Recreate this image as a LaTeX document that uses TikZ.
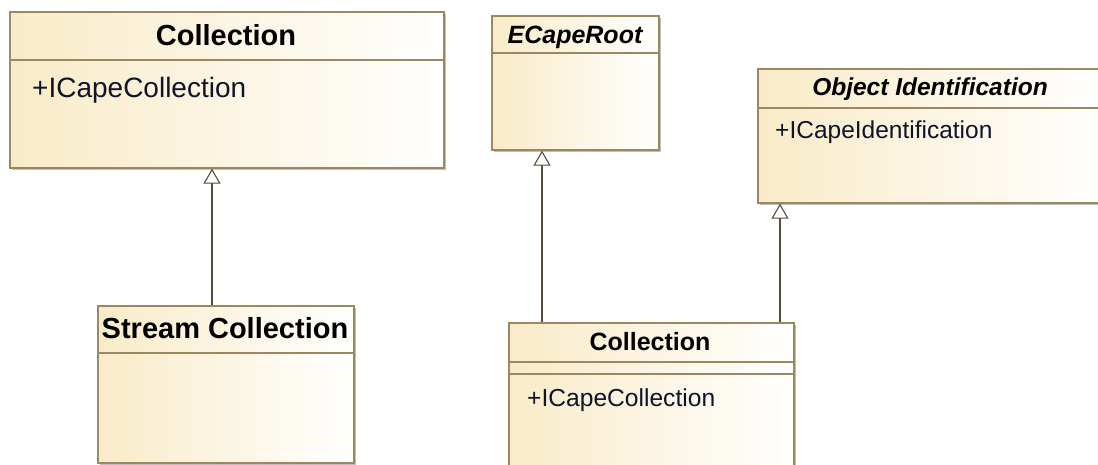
\documentclass[tikz,border=0pt]{standalone}
\usepackage{fontspec}
\setmainfont{Liberation Sans}
\usetikzlibrary{arrows.meta,shadows}
\definecolor{umlborder}{RGB}{155,136,96}
\definecolor{umlfill}{RGB}{249,235,200}
\definecolor{umlline}{RGB}{85,76,62}
\definecolor{attrtext}{RGB}{15,20,40}
\tikzset{
  classbox/.style={draw=umlborder, line width=1.6pt, rectangle, inner sep=0pt, anchor=north west,
    left color=umlfill, right color=white,
    drop shadow={shadow xshift=2pt, shadow yshift=-2pt, opacity=0.25, fill=black}},
  sepline/.style={draw=umlborder, line width=1.4pt},
  gen/.style={draw=umlline, line width=1.4pt, -{Triangle[open, width=17pt 0 0, length=15pt 0 0, line width=1.1pt, fill=white]}},
  title/.style={inner sep=0pt, anchor=base, font=\bfseries},
  ititle/.style={inner sep=0pt, anchor=base, font=\bfseries\itshape},
  attr/.style={inner sep=0pt, anchor=base west, text=attrtext}
}
\begin{document}
\begin{tikzpicture}[x=1pt,y=-1pt]
\clip (0,0) rectangle (1098,464);
\fill[white] (0,0) rectangle (1098,464);
% boxes
\node[classbox, minimum width=434pt, minimum height=156pt] (c1) at (9,11) {};
\node[classbox, minimum width=256pt, minimum height=157pt] (sc) at (97,305) {};
\node[classbox, minimum width=167pt, minimum height=134pt] (ecr) at (491,15) {};
\node[classbox, minimum width=346pt, minimum height=134pt] (oid) at (757,68) {};
\node[classbox, minimum width=285pt, minimum height=160pt] (c2) at (508,322) {};
% compartment separators
\draw[sepline] (c1.west |- 0,60) -- (c1.east |- 0,60);
\draw[sepline] (sc.west |- 0,353) -- (sc.east |- 0,353);
\draw[sepline] (ecr.west |- 0,53) -- (ecr.east |- 0,53);
\draw[sepline] (oid.west |- 0,108) -- (oid.east |- 0,108);
\draw[sepline] (c2.west |- 0,362) -- (c2.east |- 0,362);
\draw[sepline] (c2.west |- 0,374) -- (c2.east |- 0,374);
% texts
\node[title, font=\bfseries\fontsize{29}{34}\selectfont] (c1t) at (226,45) {Collection};
\node[attr, font=\fontsize{28}{33}\selectfont] (c1a) at (32,97) {+ICapeCollection};
\node[title, font=\bfseries\fontsize{29}{34}\selectfont] (sct) at (225,338) {Stream Collection};
\node[ititle, font=\bfseries\itshape\fontsize{25}{30}\selectfont] (ecrt) at (575,43) {ECapeRoot};
\node[ititle, font=\bfseries\itshape\fontsize{24.5}{29}\selectfont] (oidt) at (930,95) {Object Identification};
\node[attr, font=\fontsize{24.5}{29}\selectfont] (oida) at (775,138) {+ICapeIdentification};
\node[title, font=\bfseries\fontsize{25}{30}\selectfont] (c2t) at (650,350) {Collection};
\node[attr, font=\fontsize{24.6}{29}\selectfont] (c2a) at (527,406) {+ICapeCollection};
% connectors
\coordinate (s1) at (212,305);
\coordinate (s2) at (542,322);
\coordinate (s3) at (780,322);
\draw[gen] (s1) -- (s1 |- c1.south);
\draw[gen] (s2) -- (s2 |- ecr.south);
\draw[gen] (s3) -- (s3 |- oid.south);
\end{tikzpicture}
\end{document}
